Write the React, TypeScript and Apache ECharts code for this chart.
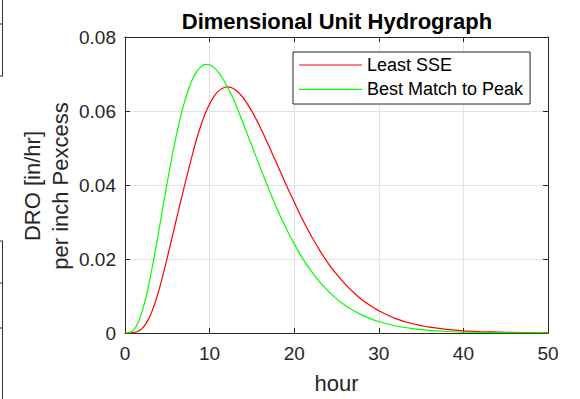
import React, { useEffect, useRef } from "react";
import * as echarts from "echarts";

const hours = [
  0, 0.5, 1, 1.5, 2, 2.5, 3, 3.5, 4, 4.5, 5, 5.5, 6, 6.5, 7, 7.5, 8, 8.5, 9, 9.5, 10,
  10.5, 11, 11.5, 12, 12.5, 13, 13.5, 14, 14.5, 15, 15.5, 16, 16.5, 17, 17.5, 18, 18.5, 19, 19.5, 20,
  21, 22, 23, 24, 25, 26, 27, 28, 29, 30,
  32, 34, 36, 38, 40, 42, 45, 50,
];
const leastSSE = [
  0, 0, 0.0001, 0.0004, 0.0012, 0.0026, 0.0048, 0.0078, 0.0115, 0.0158, 0.0204, 0.0252, 0.03, 0.0348, 0.0395, 0.0441, 0.0485, 0.0527, 0.0563, 0.0594, 0.0619,
  0.0639, 0.0653, 0.0661, 0.0665, 0.0664, 0.0658, 0.0648, 0.0635, 0.0618, 0.0599, 0.0578, 0.0555, 0.0531, 0.0506, 0.048, 0.0455, 0.0429, 0.0403, 0.0378, 0.0354,
  0.0306, 0.0263, 0.0224, 0.0189, 0.0159, 0.0133, 0.011, 0.009, 0.0074, 0.006,
  0.0039, 0.0025, 0.0016, 0.001, 0.0006, 0.0004, 0.0002, 0.00005,
];
const bestPeak = [
  0, 0.0001, 0.0008, 0.0026, 0.0057, 0.0099, 0.0152, 0.0212, 0.0276, 0.0343, 0.0408, 0.047, 0.0527, 0.0578, 0.0622, 0.0658, 0.0687, 0.0707, 0.072, 0.0726, 0.0725,
  0.0718, 0.0706, 0.069, 0.0669, 0.0647, 0.0622, 0.0594, 0.0565, 0.0535, 0.0506, 0.0476, 0.0446, 0.0417, 0.0389, 0.0361, 0.0334, 0.0309, 0.0285, 0.0262, 0.0241,
  0.0201, 0.0168, 0.0138, 0.0114, 0.0093, 0.0075, 0.0061, 0.0049, 0.0039, 0.0031,
  0.0019, 0.0012, 0.0007, 0.0004, 0.00025, 0.00015, 0.00006, 0.00001,
];
const seriesNames = ["Least SSE", "Best Match to Peak"];
const titleText = "Dimensional Unit Hydrograph";
const xLabel = "hour";
const yLabelLines = ["DRO [in/hr]", "per inch Pexcess"];

const FONT = '"Liberation Sans", Arial, Helvetica, sans-serif';
const AX = "#262626";

export default function App() {
  const ref = useRef<HTMLDivElement>(null);
  useEffect(() => {
    if (!ref.current) return;
    const chart = echarts.init(ref.current, null, { renderer: "svg" });
    const pairs = (ys: number[]) => hours.map((h, i) => [h, ys[i]]);
    const sideX = {
      type: "value",
      min: 0,
      max: 50,
      interval: 10,
      axisLine: { show: true, onZero: false, lineStyle: { color: AX, width: 1 } },
      axisTick: { show: true, inside: true, length: 5, lineStyle: { color: AX } },
    };
    const sideY = {
      type: "value",
      min: 0,
      max: 0.08,
      interval: 0.02,
      axisLine: { show: true, onZero: false, lineStyle: { color: AX, width: 1 } },
      axisTick: { show: true, inside: true, length: 5, lineStyle: { color: AX } },
    };
    const edge = (x1: number, y1: number, x2: number, y2: number) => ({
      type: "line",
      shape: { x1, y1, x2, y2 },
      style: { stroke: "#333", lineWidth: 1 },
      silent: true,
    });
    chart.setOption({
      animation: false,
      backgroundColor: "#ffffff",
      textStyle: { fontFamily: FONT },
      grid: { left: 125, top: 37, width: 423, height: 299, containLabel: false },
      xAxis: [
        {
          ...sideX,
          position: "bottom",
          axisLabel: { fontSize: 19, color: AX, margin: 11, fontFamily: FONT },
          splitLine: { show: true, lineStyle: { color: "#e3e3e3", width: 1 } },
          name: xLabel,
          nameLocation: "middle",
          nameGap: 39,
          nameTextStyle: { fontSize: 22, color: AX, fontFamily: FONT },
        },
        {
          ...sideX,
          position: "top",
          axisLabel: { show: false },
          splitLine: { show: false },
        },
      ],
      yAxis: [
        {
          ...sideY,
          position: "left",
          axisLabel: {
            fontSize: 19,
            color: AX,
            margin: 9,
            fontFamily: FONT,
            formatter: (v: number) => (v === 0 ? "0" : v.toFixed(2)),
          },
          splitLine: { show: true, lineStyle: { color: "#e3e3e3", width: 1 } },
        },
        {
          ...sideY,
          position: "right",
          axisLabel: { show: false },
          splitLine: { show: false },
        },
      ],
      legend: {
        orient: "vertical",
        left: 293,
        top: 52,
        icon: "rect",
        itemWidth: 63,
        itemHeight: 1.2,
        itemGap: 6.3,
        padding: [4, 7, 5.7, 6],
        backgroundColor: "#ffffff",
        borderColor: AX,
        borderWidth: 1,
        borderRadius: 0,
        textStyle: { fontSize: 18, color: "#000", fontFamily: FONT, lineHeight: 18 },
        data: seriesNames,
      },
      series: [
        {
          name: seriesNames[0],
          type: "line",
          data: pairs(leastSSE),
          showSymbol: false,
          symbol: "none",
          smooth: 0.2,
          lineStyle: { color: "#ff0000", width: 1.2 },
          itemStyle: { color: "#ff0000" },
          z: 3,
        },
        {
          name: seriesNames[1],
          type: "line",
          data: pairs(bestPeak),
          showSymbol: false,
          symbol: "none",
          smooth: 0.2,
          lineStyle: { color: "#00ff00", width: 1.2 },
          itemStyle: { color: "#00ff00" },
          z: 4,
        },
      ],
      graphic: [
        {
          type: "text",
          x: 337,
          y: 21,
          silent: true,
          style: {
            text: titleText,
            fontSize: 22,
            fontWeight: "bold",
            fontFamily: FONT,
            fill: "#000",
            textAlign: "center",
            textVerticalAlign: "middle",
          },
        },
        {
          type: "text",
          x: 32,
          y: 186,
          rotation: Math.PI / 2,
          silent: true,
          style: {
            text: yLabelLines[0],
            fontSize: 22,
            fontFamily: FONT,
            fill: AX,
            textAlign: "center",
            textVerticalAlign: "middle",
          },
        },
        {
          type: "text",
          x: 60,
          y: 186,
          rotation: Math.PI / 2,
          silent: true,
          style: {
            text: yLabelLines[1],
            fontSize: 22,
            fontFamily: FONT,
            fill: AX,
            textAlign: "center",
            textVerticalAlign: "middle",
          },
        },
        edge(2.5, 0, 2.5, 76),
        edge(0, 76, 3, 76),
        edge(0, 24, 2, 24),
        edge(2.5, 241, 2.5, 399),
        edge(0, 241, 3, 241),
        edge(0, 283, 2, 283),
        edge(0, 328, 2, 328),
      ],
    });
    return () => chart.dispose();
  }, []);
  return (
    <div
      ref={ref}
      style={{ position: "fixed", left: 0, top: 0, width: 580, height: 399, background: "#fff" }}
    />
  );
}
